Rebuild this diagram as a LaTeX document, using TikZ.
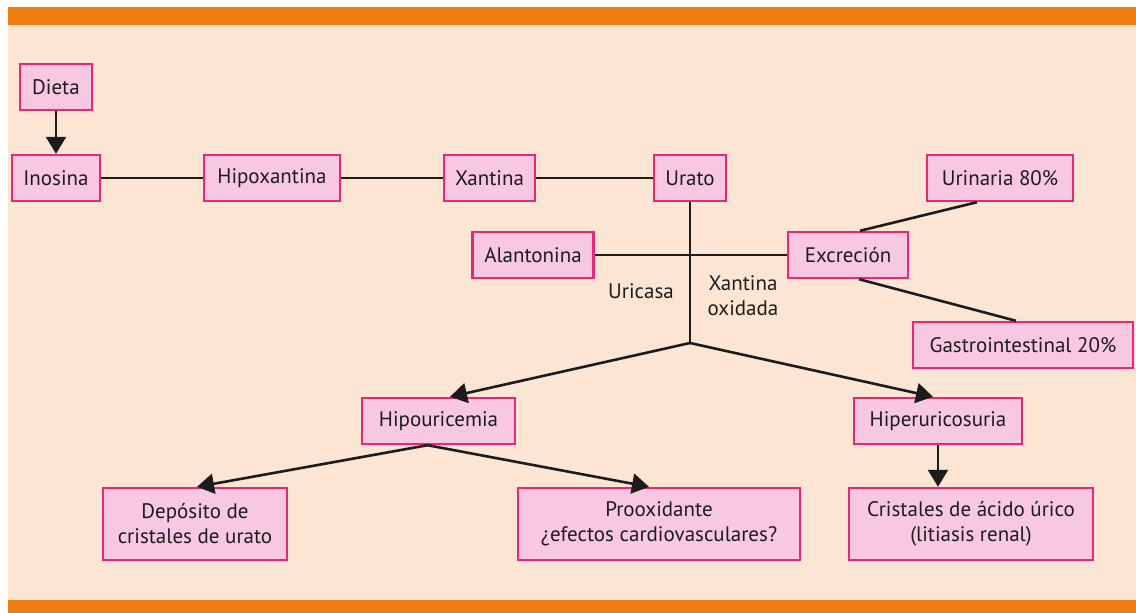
\documentclass[tikz,border=0pt]{standalone}
\usepackage{fontspec}
\setmainfont{PT Sans}
\usetikzlibrary{arrows.meta,calc}
\definecolor{peach}{HTML}{FDE5D3}
\definecolor{bandor}{HTML}{F07C14}
\definecolor{boxfill}{HTML}{F8C8E2}
\definecolor{boxline}{HTML}{E62878}
\definecolor{ink}{HTML}{1C1C1C}
\tikzset{
  box/.style={draw=boxline, fill=boxfill, line width=2.4pt, inner sep=0pt,
    text=ink, align=center, font=\fontsize{21}{25}\selectfont},
  sbox/.style={box, minimum height=46pt},
  tbox/.style={box, minimum height=72pt},
  link/.style={draw=ink, line width=2.6pt},
  arr/.style={link, -{Triangle[length=17pt,width=20pt]}},
  lbl/.style={text=ink, align=center, font=\fontsize{21}{25}\selectfont, inner sep=0pt}
}
\begin{document}
\begin{tikzpicture}[x=1pt,y=-1pt]
\useasboundingbox (0,0) rectangle (1136,613);
\fill[white] (0,0) rectangle (1136,613);
\fill[peach] (8,25) rectangle (1136,600);
\fill[bandor] (8,7) rectangle (1136,25);
\fill[bandor] (8,600) rectangle (1136,613);

\node[sbox, minimum width=72pt] (dieta) at (56,87) {Dieta};
\node[sbox, minimum width=88pt] (inos) at (56,178) {Inosina};
\node[sbox, minimum width=136pt] (hipox) at (272,178) {Hipoxantina};
\node[sbox, minimum width=91pt] (xant) at (489.5,178) {Xantina};
\node[sbox, minimum width=72pt] (urato) at (690,178) {Urato};
\node[sbox, minimum width=146pt] (urin) at (1000,178) {Urinaria 80\%};
\node[sbox, minimum width=121pt] (alan) at (533,255) {Alantonina};
\node[sbox, minimum width=120pt] (excr) at (848,255) {Excreción};
\node[sbox, minimum width=220pt] (gastro) at (1023,345) {Gastrointestinal 20\%};
\node[sbox, minimum width=153pt] (hipou) at (438.5,421) {Hipouricemia};
\node[sbox, minimum width=168pt] (hiper) at (938,421) {Hiperuricosuria};
\node[tbox, minimum width=184pt] (depo) at (195,524) {Depósito de\\cristales de urato};
\node[tbox, minimum width=282pt] (proox) at (659,524) {Prooxidante\\¿efectos cardiovasculares?};
\node[tbox, minimum width=244pt] (crist) at (971,524) {Cristales de ácido úrico\\(litiasis renal)};

\node[lbl] (uric) at (641,291) {Uricasa};
\node[lbl] (xo) at (743,296) {Xantina\\oxidada};

\coordinate (br) at (690,343);

\draw[arr] (dieta.south) -- (inos.north);
\draw[link] (inos.east) -- (hipox.west);
\draw[link] (hipox.east) -- (xant.west);
\draw[link] (xant.east) -- (urato.west);
\draw[link] (alan.east) -- (excr.west);
\draw[link] (urato.south) -- (br);
\draw[link] ([xshift=12pt]excr.north) -- ([xshift=-23pt]urin.south);
\draw[link] ([xshift=11pt]excr.south) -- ([xshift=-7pt]gastro.north);
\draw[arr] (br) -- ([xshift=11.5pt]hipou.north);
\draw[arr] (br) -- ([xshift=-5pt]hiper.north);
\draw[arr] ([xshift=-11pt]hipou.south) -- ([xshift=2pt]depo.north);
\draw[arr] ([xshift=-11pt]hipou.south) -- ([xshift=-10pt]proox.north);
\draw[arr] (hiper.south) -- (hiper.south |- crist.north);
\end{tikzpicture}
\end{document}
